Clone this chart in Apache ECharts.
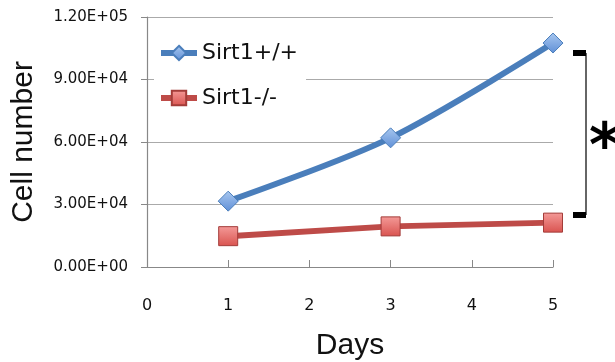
<!DOCTYPE html>
<html>
<head>
<meta charset="utf-8">
<script src="https://cdn.jsdelivr.net/npm/echarts@6/dist/echarts.min.js"></script>
<style>
  html, body { margin: 0; padding: 0; background: #fff; }
  #chart { width: 615px; height: 362px; }
</style>
</head>
<body>
<div id="chart"></div>
<script>
// days and cell counts
const days = [1, 3, 5];
const wildType = [31600, 62000, 107500];
const knockOut = [14800, 19500, 21300];
const seriesNames = ['Sirt1+/+', 'Sirt1-/-'];

function sci(v) {
  // Excel style 0.00E+00 labels
  if (v === 0) return '0.00E+00';
  const e = Math.floor(Math.log10(v));
  const m = (v / Math.pow(10, e)).toFixed(2);
  return m + 'E+' + String(e).padStart(2, '0');
}

const chart = echarts.init(document.getElementById('chart'));
const option = {
  animation: false,
  grid: { left: 147, right: 62, top: 17, bottom: 95, outerBoundsMode: 'none', containLabel: false },
  legend: {
    left: 154,
    top: 34,
    orient: 'vertical',
    itemGap: 19,
    itemWidth: 36,
    itemHeight: 18,
    backgroundColor: '#fff',
    padding: [6, 8, 6, 4],
    lineStyle: { width: 6 },
    textStyle: { fontSize: 22, color: '#111', fontFamily: 'DejaVu Sans', lineHeight: 26 },
    data: seriesNames
  },
  xAxis: {
    type: 'value',
    min: 0, max: 5, interval: 1,
    name: 'Days',
    nameLocation: 'middle',
    nameGap: 64,
    nameTextStyle: { fontSize: 30, color: '#111', fontFamily: 'Liberation Sans' },
    axisLine: { show: true, lineStyle: { color: '#888', width: 1.2 } },
    axisTick: { show: true, inside: true, length: 7, lineStyle: { color: '#888' } },
    axisLabel: { fontSize: 16, color: '#111', margin: 31, fontFamily: 'DejaVu Sans' },
    splitLine: { show: false }
  },
  yAxis: {
    type: 'value',
    min: 0, max: 120000, interval: 30000,
    name: 'Cell number',
    nameLocation: 'middle',
    nameGap: 108,
    nameTextStyle: { fontSize: 30, color: '#111', fontFamily: 'Liberation Sans' },
    axisLine: { show: true, lineStyle: { color: '#888', width: 1.2 } },
    axisTick: { show: true, length: 6, lineStyle: { color: '#888' } },
    axisLabel: { fontSize: 15, color: '#111', margin: 19, fontFamily: 'DejaVu Sans', formatter: sci },
    splitLine: { show: true, lineStyle: { color: '#aaa', width: 1.2 } }
  },
  series: [
    {
      name: seriesNames[0],
      type: 'line',
      smooth: 0.3,
      data: days.map((d, i) => [d, wildType[i]]),
      symbol: 'diamond',
      symbolSize: 20,
      lineStyle: { color: '#4a7ebb', width: 6 },
      itemStyle: {
        color: new echarts.graphic.LinearGradient(0, 0, 0, 1, [
          { offset: 0, color: '#a9c8f0' },
          { offset: 1, color: '#5f8fd6' }
        ]),
        borderColor: '#4a7ebb',
        borderWidth: 1
      },
      z: 3
    },
    {
      name: seriesNames[1],
      type: 'line',
      data: days.map((d, i) => [d, knockOut[i]]),
      symbol: 'rect',
      symbolSize: 19,
      lineStyle: { color: '#be4b48', width: 6 },
      itemStyle: {
        color: new echarts.graphic.LinearGradient(0, 0, 0, 1, [
          { offset: 0, color: '#f49a98' },
          { offset: 1, color: '#d9534f' }
        ]),
        borderColor: '#a33c39',
        borderWidth: 1
      },
      z: 2
    }
  ],
  graphic: [
    // significance bracket
    { type: 'line', shape: { x1: 586, y1: 53, x2: 586, y2: 215 }, style: { stroke: '#333', lineWidth: 1.5 } },
    { type: 'rect', shape: { x: 573, y: 50, width: 13, height: 6 }, style: { fill: '#000' } },
    { type: 'rect', shape: { x: 573, y: 212, width: 13, height: 6 }, style: { fill: '#000' } },
    { type: 'text', left: 589, top: 120, style: { text: '*', fontSize: 60, fontWeight: 'bold', fill: '#000', fontFamily: 'DejaVu Sans' } }
  ]
};
chart.setOption(option);
</script>
</body>
</html>
